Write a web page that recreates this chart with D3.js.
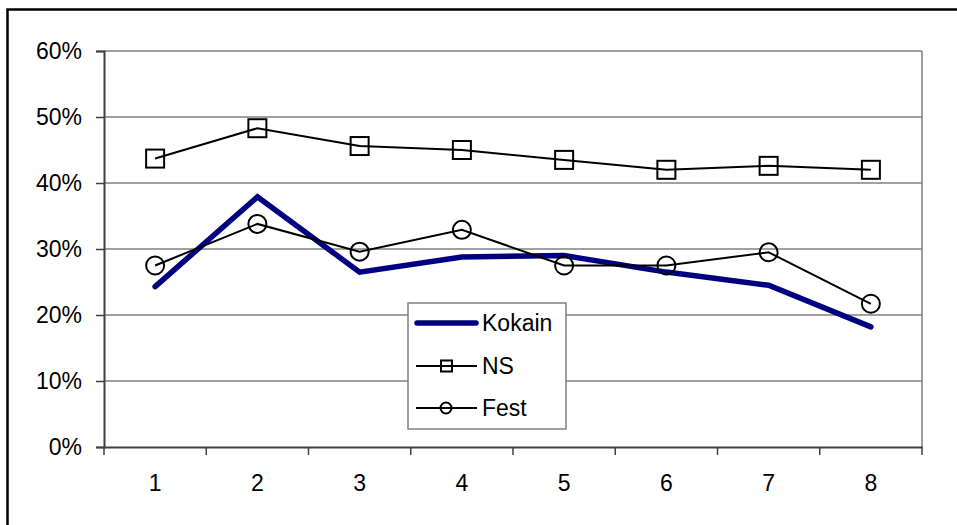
<!DOCTYPE html>
<html>
<head>
<meta charset="utf-8">
<script src="https://cdn.jsdelivr.net/npm/d3@7"></script>
<style>
  html, body { margin: 0; padding: 0; background: #fff; }
  svg { display: block; font-family: "Liberation Sans", Arial, sans-serif; }
</style>
</head>
<body>
<svg id="chart" width="957" height="525"></svg>
<script>
const categories = ["1", "2", "3", "4", "5", "6", "7", "8"];
const kokain = [0.243, 0.379, 0.265, 0.288, 0.290, 0.265, 0.245, 0.182];
const ns     = [0.437, 0.483, 0.456, 0.450, 0.435, 0.420, 0.426, 0.420];
const fest   = [0.275, 0.338, 0.296, 0.329, 0.275, 0.275, 0.295, 0.217];
const yTicks = [0, 0.1, 0.2, 0.3, 0.4, 0.5, 0.6];
const seriesNames = ["Kokain", "NS", "Fest"];

const svg = d3.select("#chart");
const margin = { left: 104, top: 51, right: 922, bottom: 447 };

// outer chart border (left/top visible)
svg.append("rect")
  .attr("x", 7.5).attr("y", 9.5)
  .attr("width", 1000).attr("height", 1000)
  .attr("fill", "none").attr("stroke", "#000").attr("stroke-width", 2.5);

const x = d3.scaleBand().domain(categories).range([margin.left, margin.right]).padding(0);
const y = d3.scaleLinear().domain([0, 0.6]).range([margin.bottom, margin.top]);

// gridlines
svg.append("g").selectAll("line").data(yTicks.filter(d => d > 0)).join("line")
  .attr("x1", margin.left).attr("x2", margin.right)
  .attr("y1", d => y(d)).attr("y2", d => y(d))
  .attr("stroke", "#808080").attr("stroke-width", 1.5);
// right plot border
svg.append("line")
  .attr("x1", margin.right).attr("x2", margin.right)
  .attr("y1", margin.top).attr("y2", margin.bottom)
  .attr("stroke", "#808080").attr("stroke-width", 1.5);

// y axis
const yAxis = d3.axisLeft(y).tickValues(yTicks).tickFormat(d3.format(".0%")).tickSize(8).tickPadding(14);
const gy = svg.append("g").attr("transform", `translate(${margin.left},0)`).call(yAxis);
gy.select(".domain").attr("stroke", "#404040").attr("stroke-width", 2);
gy.selectAll(".tick line").attr("stroke", "#404040").attr("stroke-width", 1.5);
gy.selectAll("text").attr("font-size", 23).attr("fill", "#000")
  .attr("font-family", "Liberation Sans, Arial, sans-serif");

// x axis
const xAxis = d3.axisBottom(x).tickSize(0).tickPadding(28);
const gx = svg.append("g").attr("transform", `translate(0,${margin.bottom})`).call(xAxis);
gx.select(".domain").attr("stroke", "#404040").attr("stroke-width", 2);
gx.selectAll("text").attr("font-size", 23).attr("fill", "#000")
  .attr("font-family", "Liberation Sans, Arial, sans-serif");
// boundary ticks
const bounds = categories.map(c => x(c)).concat([x(categories[categories.length - 1]) + x.bandwidth()]);
svg.append("g").selectAll("line").data(bounds).join("line")
  .attr("x1", d => d).attr("x2", d => d)
  .attr("y1", margin.bottom).attr("y2", margin.bottom + 8)
  .attr("stroke", "#404040").attr("stroke-width", 1.5);

const cx = i => x(categories[i]) + x.bandwidth() / 2;
const line = d3.line().x((d, i) => cx(i)).y(d => y(d));

// Kokain
svg.append("path").datum(kokain).attr("d", line)
  .attr("fill", "none").attr("stroke", "#000080").attr("stroke-width", 5.5)
  .attr("stroke-linejoin", "miter").attr("stroke-linecap", "round");

// NS
svg.append("path").datum(ns).attr("d", line)
  .attr("fill", "none").attr("stroke", "#000").attr("stroke-width", 2);
svg.append("g").selectAll("rect").data(ns).join("rect")
  .attr("x", (d, i) => cx(i) - 9).attr("y", d => y(d) - 9)
  .attr("width", 18).attr("height", 18)
  .attr("fill", "none").attr("stroke", "#000").attr("stroke-width", 2);

// Fest
svg.append("path").datum(fest).attr("d", line)
  .attr("fill", "none").attr("stroke", "#000").attr("stroke-width", 2);
svg.append("g").selectAll("circle").data(fest).join("circle")
  .attr("cx", (d, i) => cx(i)).attr("cy", d => y(d)).attr("r", 9)
  .attr("fill", "none").attr("stroke", "#000").attr("stroke-width", 2);

// legend
const lg = svg.append("g");
lg.append("rect").attr("x", 408).attr("y", 303).attr("width", 158).attr("height", 126)
  .attr("fill", "#fff").attr("stroke", "#808080").attr("stroke-width", 1.5);
const ly = [323, 366, 408];
seriesNames.forEach((name, i) => {
  const yy = ly[i];
  if (i === 0) {
    lg.append("line").attr("x1", 417).attr("x2", 476).attr("y1", yy).attr("y2", yy)
      .attr("stroke", "#000080").attr("stroke-width", 5.5).attr("stroke-linecap", "round");
  } else {
    lg.append("line").attr("x1", 416).attr("x2", 477).attr("y1", yy).attr("y2", yy)
      .attr("stroke", "#000").attr("stroke-width", 2);
    if (i === 1) {
      lg.append("rect").attr("x", 441).attr("y", yy - 5.5).attr("width", 11).attr("height", 11)
        .attr("fill", "none").attr("stroke", "#000").attr("stroke-width", 2);
    } else {
      lg.append("circle").attr("cx", 446).attr("cy", yy).attr("r", 5.5)
        .attr("fill", "none").attr("stroke", "#000").attr("stroke-width", 2);
    }
  }
  lg.append("text").attr("x", 482).attr("y", yy).attr("dy", "0.35em")
    .attr("font-size", 23).attr("fill", "#000").text(name);
});
</script>
</body>
</html>
